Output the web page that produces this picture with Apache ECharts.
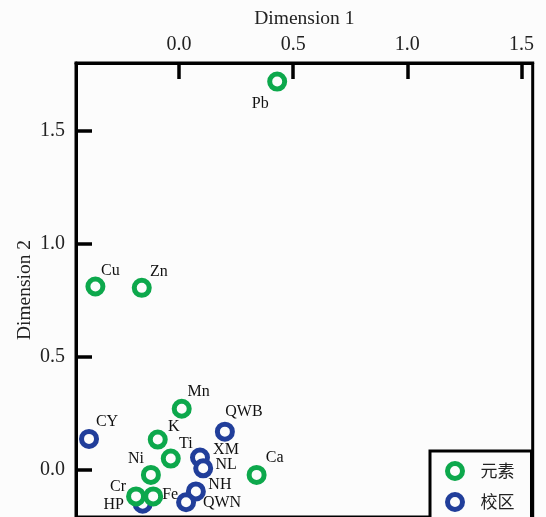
<!DOCTYPE html>
<html>
<head>
<meta charset="utf-8">
<script src="https://cdn.jsdelivr.net/npm/echarts@6/dist/echarts.min.js"></script>
<style>
html,body{margin:0;padding:0;background:#fcfcfc;}
#main{width:546px;height:517px;}
</style>
</head>
<body>
<div id="main"></div>
<script>
// ---- data ----
var elementNames = ['Pb','Cu','Zn','Mn','K','Ti','Ni','Cr','Fe','Ca'];
var elementX = [0.430, -0.366, -0.163, 0.012, -0.093, -0.036, -0.123, -0.188, -0.113, 0.340];
var elementY = [1.716, 0.811, 0.805, 0.271, 0.135, 0.051, -0.021, -0.116, -0.116, -0.021];
var campusNames = ['CY','QWB','XM','NL','NH','QWN','HP'];
var campusX = [-0.394, 0.201, 0.092, 0.106, 0.074, 0.031, -0.159];
var campusY = [0.138, 0.170, 0.056, 0.008, -0.094, -0.142, -0.148];
var tickValues = [0, 0.5, 1.0, 1.5];
var seriesNames = ['元素', '校区'];

// ---- label placement (style only) ----
var elementLabelOffsets = [[-17,22],[15,-16],[17,-16],[17,-17],[16,-13],[15,-15],[-15,-16],[-18,-10],[17,-2],[18,-17]];
var campusLabelOffsets = [[18,-17],[19,-20],[26,-8],[23,-4],[24,-7],[36,1],[-29,1]];

var GREEN = '#0da84c';
var BLUE = '#213e9a';
var SERIF = '"Liberation Serif","DejaVu Serif",serif';

function buildData(names, xs, ys, offsets) {
  return names.map(function (n, i) {
    return {
      name: n,
      value: [xs[i], ys[i]],
      label: { offset: offsets[i] }
    };
  });
}

var chart = echarts.init(document.getElementById('main'), null, { renderer: 'canvas' });

var axisCommon = {
  type: 'value',
  splitLine: { show: false },
  axisLine: { show: true, onZero: false, lineStyle: { color: '#000', width: 3 } },
  axisTick: { show: true, inside: true, length: 16, customValues: tickValues, lineStyle: { color: '#000', width: 3.5 } },
  axisLabel: {
    customValues: tickValues,
    fontFamily: SERIF, fontSize: 20, color: '#222',
    formatter: function (v) { return v.toFixed(1); }
  },
  nameLocation: 'middle',
  nameMoveOverlap: false,
  nameTextStyle: { fontFamily: SERIF, fontSize: 19.5, color: '#222' }
};

var option = {
  backgroundColor: '#fcfcfc',
  animation: false,
  grid: {
    left: 76, top: 63, width: 456.7, height: 458,
    show: true, borderColor: '#000', borderWidth: 3, backgroundColor: 'transparent'
  },
  xAxis: Object.assign({}, axisCommon, {
    position: 'top',
    min: -0.451, max: 1.549,
    name: 'Dimension 1',
    nameGap: 34,
    axisLabel: Object.assign({}, axisCommon.axisLabel, { margin: 8 })
  }),
  yAxis: Object.assign({}, axisCommon, {
    position: 'left',
    min: -0.207, max: 1.798,
    name: 'Dimension 2',
    nameGap: 41,
    axisLabel: Object.assign({}, axisCommon.axisLabel, { margin: 11 })
  }),
  legend: {
    data: seriesNames,
    orient: 'vertical',
    left: 430, top: 451, height: 90,
    padding: [10, 17, 30, 15],
    itemWidth: 15, itemHeight: 15, itemGap: 11,
    itemStyle: { borderWidth: 5 },
    borderColor: '#000', borderWidth: 3,
    backgroundColor: '#fcfcfc',
    textStyle: { fontFamily: '"Noto Sans CJK SC",sans-serif', fontSize: 17, color: '#222', padding: [0,0,0,13] }
  },
  series: [
    {
      name: seriesNames[1],
      type: 'scatter',
      z: 2,
      clip: false,
      symbol: 'circle',
      symbolSize: 15,
      itemStyle: { color: '#fcfcfc', borderColor: BLUE, borderWidth: 5, opacity: 1 },
      label: { show: true, position: 'inside', formatter: '{b}', fontFamily: SERIF, fontSize: 16, color: '#111' },
      emphasis: { disabled: true },
      data: buildData(campusNames, campusX, campusY, campusLabelOffsets)
    },
    {
      name: seriesNames[0],
      type: 'scatter',
      z: 3,
      clip: false,
      symbol: 'circle',
      symbolSize: 15,
      itemStyle: { color: '#fcfcfc', borderColor: GREEN, borderWidth: 5, opacity: 1 },
      label: { show: true, position: 'inside', formatter: '{b}', fontFamily: SERIF, fontSize: 16, color: '#111' },
      emphasis: { disabled: true },
      data: buildData(elementNames, elementX, elementY, elementLabelOffsets)
    }
  ]
};
chart.setOption(option);
</script>
</body>
</html>
